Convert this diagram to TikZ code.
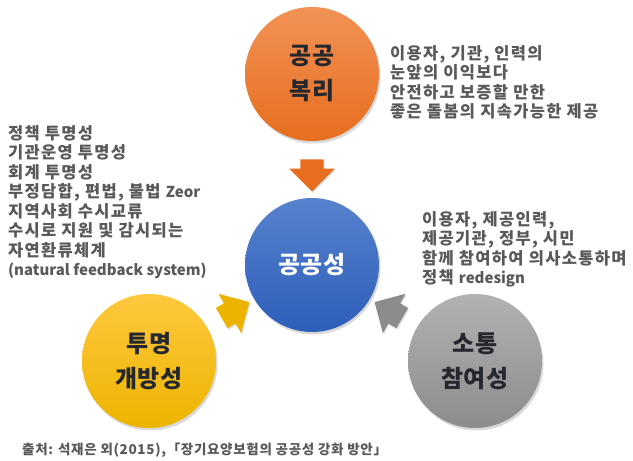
\documentclass[tikz,border=0pt]{standalone}
\usepackage{fontspec}
\setmainfont{Noto Sans CJK KR}
\newfontfamily\krfont[LetterSpace=8]{Noto Sans CJK KR}
\newfontfamily\srcfont[LetterSpace=5]{Noto Sans CJK KR}
\newfontfamily\latfont{Noto Sans CJK KR}
\newcommand\lat[1]{{\latfont\fontsize{15}{19.5}\selectfont #1}}
\usetikzlibrary{positioning,calc,shapes.arrows,shadows}

\definecolor{txtgray}{RGB}{89,89,89}
\definecolor{darkink}{RGB}{38,40,48}
\definecolor{orangetop}{RGB}{242,146,86}
\definecolor{orangebot}{RGB}{230,110,30}
\definecolor{bluetop}{RGB}{88,130,206}
\definecolor{bluebot}{RGB}{45,94,186}
\definecolor{yellowtop}{RGB}{255,200,62}
\definecolor{yellowbot}{RGB}{236,180,0}
\definecolor{graytop}{RGB}{178,178,178}
\definecolor{graybot}{RGB}{140,140,140}

\begin{document}
\begin{tikzpicture}[
                x=1pt, y=1pt,
                node distance=191pt,
                on grid,
                bubble/.style={circle, minimum size=134pt, inner sep=0pt,
                    align=center, text=darkink,
                    font=\fontsize{24}{35}\selectfont\bfseries,
                    drop shadow={shadow xshift=1.5pt, shadow yshift=-2.5pt,
                        opacity=0.3}},
                bigarrow/.style={single arrow, minimum height=32pt,
                    single arrow head extend=11pt,
                    inner xsep=0pt, inner ysep=11.5pt,
                    drop shadow={shadow xshift=1pt, shadow yshift=-1.5pt,
                        opacity=0.25}},
                note/.style={align=left, inner sep=0pt, text=txtgray,
                    font=\krfont\fontsize{16.5}{19.5}\selectfont\bfseries}]
            \useasboundingbox (0,0) rectangle (633,461);

            \node[bubble, top color=bluetop, bottom color=bluebot,
                text=white]                                     (pub)     at (312,196)    {공공성};
            \node[bubble, top color=orangetop, bottom color=orangebot] (welfare) [above of=pub] {공공\\복리};
            \node[bubble, top color=yellowtop, bottom color=yellowbot] (open)
                [below left=96pt and 163pt of pub]  {투명\\개방성};
            \node[bubble, top color=graytop, bottom color=graybot]   (talk)
                [below right=96pt and 163pt of pub] {소통\\참여성};

            \node[bigarrow, fill=orangebot, rotate=-90]  (a1) at ($(welfare)!0.5!(pub)$) {};
            \node[bigarrow, fill=yellowbot, rotate=30]   (a2) at ($(open)!0.5!(pub)$)    {};
            \node[bigarrow, fill=graybot, rotate=150]    (a3) at ($(talk)!0.5!(pub)$)    {};

            \node[note, anchor=north west] (welfarenote) at (390,416)
                {이용자, 기관, 인력의\\눈앞의 이익보다\\안전하고 보증할 만한\\좋은 돌봄의 지속가능한 제공};
            \node[note, anchor=north west] (opennote) at (8,336)
                {정책 투명성\\기관운영 투명성\\회계 투명성\\부정담합, 편법, 불법 \lat{Zeor}\\지역사회 수시교류\\수시로 지원 및 감시되는\\자연환류체계\\\lat{(natural feedback system)}};
            \node[note, anchor=north west] (talknote) at (422,250)
                {이용자, 제공인력,\\제공기관, 정부, 시민\\함께 참여하여 의사소통하며\\정책 \lat{redesign}};
            \node[note, anchor=west, font=\srcfont\fontsize{13.5}{16}\selectfont\bfseries] (source) at (22,11)
                {출처: 석재은 외(2015),「장기요양보험의 공공성 강화 방안」};
        \end{tikzpicture}
\end{document}
